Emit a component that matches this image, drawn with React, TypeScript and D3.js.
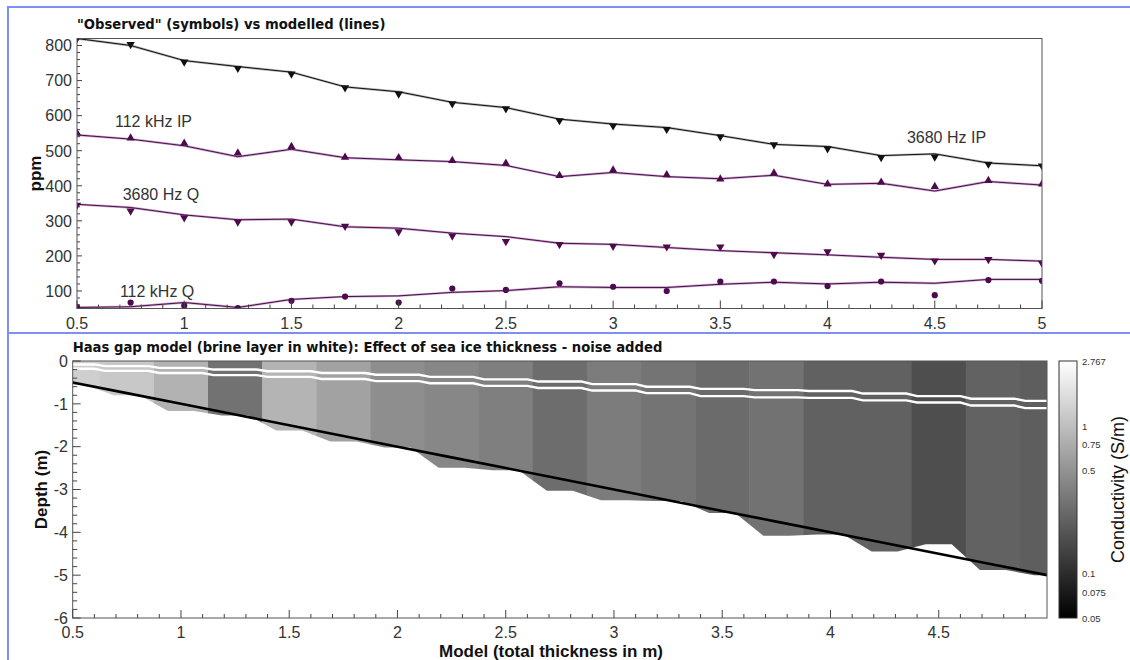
import React from "react";
import * as d3 from "d3";

// Model ice thickness (m) for each synthetic run
const thickness = [0.5, 0.75, 1, 1.25, 1.5, 1.75, 2, 2.25, 2.5, 2.75, 3, 3.25, 3.5, 3.75, 4, 4.25, 4.5, 4.75, 5];

// Response in ppm: "observed" (noisy) and modelled values
const obs3680IP = [820, 803, 753, 735, 719, 680, 662, 634, 620, 586, 571, 561, 540, 517, 506, 481, 482, 462, 457];
const mod3680IP = [820, 800, 757, 740, 724, 682, 668, 638, 623, 590, 576, 566, 543, 518, 512, 486, 491, 465, 457];
const obs112IP = [550, 536, 521, 493, 512, 481, 480, 472, 464, 429, 445, 431, 419, 436, 405, 410, 398, 415, 405];
const mod112IP = [545, 533, 514, 483, 504, 480, 474, 469, 458, 426, 438, 426, 420, 430, 404, 407, 385, 412, 402];
const obs3680Q = [345, 328, 309, 297, 297, 285, 269, 257, 241, 233, 228, 226, 226, 204, 212, 202, 186, 190, 179];
const mod3680Q = [347, 338, 317, 303, 305, 283, 279, 265, 255, 236, 233, 224, 215, 209, 203, 196, 190, 190, 185];
const obs112Q = [55, 67, 58, 51, 72, 84, 67, 107, 103, 122, 112, 100, 127, 127, 114, 127, 88, 131, 129];
const mod112Q = [53, 55, 67, 53, 76, 84, 86, 96, 101, 112, 110, 110, 119, 125, 120, 125, 122, 133, 133];

// Inverted model: conductivity of each column (S/m), brine layer depths and noisy ice base (m)
const conductivity = [1.3, 1.16, 0.82, 0.3, 0.85, 0.64, 0.47, 0.42, 0.37, 0.28, 0.35, 0.31, 0.27, 0.3, 0.23, 0.23, 0.17, 0.235, 0.22];
const brineTop = [-0.08, -0.12, -0.16, -0.2, -0.24, -0.28, -0.32, -0.37, -0.43, -0.48, -0.54, -0.6, -0.65, -0.68, -0.7, -0.76, -0.82, -0.88, -0.93];
const brineBottom = [-0.18, -0.23, -0.28, -0.33, -0.37, -0.42, -0.47, -0.52, -0.58, -0.63, -0.69, -0.75, -0.82, -0.85, -0.86, -0.92, -0.97, -1.04, -1.1];
const iceBase = [-0.56, -0.8, -1.17, -1.27, -1.62, -1.88, -2.02, -2.49, -2.55, -3.03, -3.25, -3.27, -3.55, -4.08, -4.05, -4.45, -4.28, -4.88, -5.0];

// Colour bar labels (S/m)
const colorTicks = [2.767, 1, 0.75, 0.5, 0.1, 0.075, 0.05];

const W = 1130;
const H = 660;
const BLUE = "#7d8ff2";
const PURPLE = "#4d0a4d";
const SANS = "'Liberation Sans', Arial, sans-serif";
const BOLD = "'DejaVu Sans', Verdana, sans-serif";

function steps(vals: number[], flat: number): [number, number][] {
  const pts: [number, number][] = [];
  const last = vals.length - 1;
  vals.forEach((v, i) => {
    const c = thickness[i];
    pts.push([i === 0 ? c : c - flat, v]);
    pts.push([i === last ? c : c + flat, v]);
  });
  return pts;
}

export default function App() {
  // ---------- top panel ----------
  const T = { l: 77, r: 1042, t: 38.5, b: 308.5 };
  const xT = d3.scaleLinear().domain([0.5, 5]).range([T.l, T.r]);
  const yT = d3.scaleLinear().domain([50, 820]).range([T.b, T.t]);
  const lineT = d3
    .line<number>()
    .x((_, i) => xT(thickness[i]))
    .y((v) => yT(v));

  const tri = d3.symbol().type(d3.symbolTriangle).size(30)() as string;
  const circ = d3.symbol().type(d3.symbolCircle).size(30)() as string;

  const series = [
    { obs: obs3680IP, mod: mod3680IP, color: "#111", halo: "#b4b4b4", mark: tri, rot: 180, label: "3680 Hz IP", lx: 4.37, ly: 522 },
    { obs: obs112IP, mod: mod112IP, color: PURPLE, halo: "#c9abc9", mark: tri, rot: 0, label: "112 kHz IP", lx: 0.677, ly: 569 },
    { obs: obs3680Q, mod: mod3680Q, color: PURPLE, halo: "#c9abc9", mark: tri, rot: 180, label: "3680 Hz Q", lx: 0.713, ly: 360 },
    { obs: obs112Q, mod: mod112Q, color: PURPLE, halo: "#c9abc9", mark: circ, rot: 0, label: "112 kHz Q", lx: 0.7, ly: 83 },
  ];

  const xMajorT = d3.range(0.5, 5.001, 0.5);
  const xMinorT = d3.range(0.5, 5.001, 0.1).filter((v) => Math.abs(v * 2 - Math.round(v * 2)) > 1e-6);
  const yMajorT = d3.range(100, 801, 100);
  const yMinorT = d3.range(60, 821, 20).filter((v) => v % 100 !== 0);

  // ---------- bottom panel ----------
  const B = { l: 72.7, r: 1047, t: 361, b: 618 };
  const xB = d3.scaleLinear().domain([0.5, 5]).range([B.l, B.r]);
  const yB = d3.scaleLinear().domain([-6, 0]).range([B.b, B.t]);
  const cLog = d3.scaleLog().domain([0.05, 2.767]).range([0, 1]);
  const grey = (v: number) => d3.interpolateRgb("#000", "#fff")(cLog(v));
  const cbY = d3.scaleLog().domain([0.05, 2.767]).range([B.b, B.t]);

  const stepLine = d3
    .line<[number, number]>()
    .x((p) => xB(p[0]))
    .y((p) => yB(p[1]));
  const iceArea = d3
    .area<[number, number]>()
    .x((p) => xB(p[0]))
    .y0(yB(0))
    .y1((p) => yB(p[1]));
  const nominalBase = d3
    .line<number>()
    .x((t) => xB(t))
    .y((t) => yB(-t));

  const xMajorB = d3.range(0.5, 4.501, 0.5);
  const xMinorB = d3.range(0.6, 4.951, 0.1).filter((v) => Math.abs(v * 2 - Math.round(v * 2)) > 1e-6);
  const yMajorB = d3.range(-6, 0.001, 1);
  const yMinorB = d3.range(-5.8, -0.1, 0.2).filter((v) => Math.abs(v - Math.round(v)) > 1e-6);

  return (
    <svg
      width={W}
      height={H}
      style={{ position: "absolute", left: 0, top: 0, background: "#fff" }}
    >
      <defs>
        <clipPath id="clipTop">
          <rect x={T.l} y={T.t} width={T.r - T.l} height={T.b - T.t} />
        </clipPath>
        <clipPath id="clipBot">
          <rect x={B.l} y={B.t} width={B.r - B.l} height={B.b - B.t} />
        </clipPath>
        <clipPath id="clipIce">
          <path d={iceArea(steps(iceBase, 0.06)) as string} />
        </clipPath>
        <linearGradient id="cbar" x1="0" y1="1" x2="0" y2="0">
          <stop offset="0" stopColor="#000" />
          <stop offset="1" stopColor="#fff" />
        </linearGradient>
      </defs>

      {/* window frame lines */}
      <line x1={8} x2={W} y1={7} y2={7} stroke={BLUE} strokeWidth={2} />
      <line x1={8} x2={W} y1={333} y2={333} stroke={BLUE} strokeWidth={2} />
      <line x1={8} x2={8} y1={6} y2={H} stroke={BLUE} strokeWidth={2} />

      {/* ===== top panel ===== */}
      <text x={T.l} y={29} fontFamily={BOLD} fontWeight="bold" fontSize={13.2} fill="#111">
        "Observed" (symbols) vs modelled (lines)
      </text>

      <g clipPath="url(#clipTop)">
        {series.map((s, k) => (
          <g key={k}>
            <path d={lineT(s.mod) as string} fill="none" stroke={s.halo} strokeWidth={2.4} />
            <path d={lineT(s.mod) as string} fill="none" stroke={s.color} strokeWidth={1} />
            {s.obs.map((v, i) => (
              <path
                key={i}
                d={s.mark}
                fill={s.color}
                transform={`translate(${xT(thickness[i])},${yT(v)}) rotate(${s.rot})`}
              />
            ))}
          </g>
        ))}
      </g>

      {series.map((s, k) => (
        <text key={k} x={xT(s.lx)} y={yT(s.ly)} fontFamily={SANS} fontSize={16} fill="#333">
          {s.label}
        </text>
      ))}

      <rect x={T.l} y={T.t} width={T.r - T.l} height={T.b - T.t} fill="none" stroke="#555" strokeWidth={1} />

      {xMajorT.map((v) => (
        <g key={`xt${v}`}>
          <line x1={xT(v)} x2={xT(v)} y1={T.b} y2={T.b - 8} stroke="#444" />
          <text x={xT(v)} y={329} textAnchor="middle" fontFamily={SANS} fontSize={16} fill="#333">
            {d3.format("~g")(v)}
          </text>
        </g>
      ))}
      {xMinorT.map((v) => (
        <line key={`xm${v}`} x1={xT(v)} x2={xT(v)} y1={T.b} y2={T.b - 4} stroke="#444" />
      ))}
      {yMajorT.map((v) => (
        <g key={`yt${v}`}>
          <line x1={T.l} x2={T.l + 5} y1={yT(v)} y2={yT(v)} stroke="#444" />
          <text x={72} y={yT(v) + 5.8} textAnchor="end" fontFamily={SANS} fontSize={16} fill="#333">
            {v}
          </text>
        </g>
      ))}
      {yMinorT.map((v) => (
        <line key={`ym${v}`} x1={T.l} x2={T.l + 3} y1={yT(v)} y2={yT(v)} stroke="#444" />
      ))}
      <text
        transform={`translate(${41},${(T.t + T.b) / 2}) rotate(-90)`}
        textAnchor="middle"
        fontFamily={SANS}
        fontWeight="bold"
        fontSize={17}
        fill="#111"
      >
        ppm
      </text>

      {/* ===== bottom panel ===== */}
      <text x={B.l} y={352} fontFamily={BOLD} fontWeight="bold" fontSize={13.2} fill="#111">
        Haas gap model (brine layer in white): Effect of sea ice thickness - noise added
      </text>

      <g clipPath="url(#clipBot)">
        <g clipPath="url(#clipIce)">
          {thickness.map((t, i) => {
            const x0 = xB(Math.max(0.5, t - 0.125));
            const x1 = xB(Math.min(5, t + 0.125));
            return (
              <rect
                key={i}
                x={x0}
                y={yB(0)}
                width={x1 - x0 + 0.5}
                height={yB(-6) - yB(0)}
                fill={grey(conductivity[i])}
              />
            );
          })}
        </g>
        <path d={stepLine(steps(brineTop, 0.1)) as string} fill="none" stroke="#fff" strokeWidth={2.4} />
        <path d={stepLine(steps(brineBottom, 0.1)) as string} fill="none" stroke="#fff" strokeWidth={2.4} />
        <path d={nominalBase(thickness) as string} fill="none" stroke="#000" strokeWidth={2.6} />
      </g>

      <rect x={B.l} y={B.t} width={B.r - B.l} height={B.b - B.t} fill="none" stroke="#555" strokeWidth={1} />

      {xMajorB.map((v) => (
        <g key={`bx${v}`}>
          <line x1={xB(v)} x2={xB(v)} y1={B.b} y2={B.b - 8} stroke="#444" />
          <text x={xB(v)} y={638} textAnchor="middle" fontFamily={SANS} fontSize={16} fill="#333">
            {d3.format("~g")(v)}
          </text>
        </g>
      ))}
      {xMinorB.map((v) => (
        <line key={`bxm${v}`} x1={xB(v)} x2={xB(v)} y1={B.b} y2={B.b - 4} stroke="#444" />
      ))}
      {yMajorB.map((v) => (
        <g key={`by${v}`}>
          <line x1={B.l} x2={B.l + 8} y1={yB(v)} y2={yB(v)} stroke="#444" />
          <text x={68} y={yB(v) + 5.8} textAnchor="end" fontFamily={SANS} fontSize={16} fill="#333">
            {v}
          </text>
        </g>
      ))}
      {yMinorB.map((v) => (
        <line key={`bym${v}`} x1={B.l} x2={B.l + 4.5} y1={yB(v)} y2={yB(v)} stroke="#444" />
      ))}
      <text
        transform={`translate(${47},${(B.t + B.b) / 2}) rotate(-90)`}
        textAnchor="middle"
        fontFamily={SANS}
        fontWeight="bold"
        fontSize={17}
        fill="#111"
      >
        Depth (m)
      </text>
      <text x={551} y={657} textAnchor="middle" fontFamily={SANS} fontWeight="bold" fontSize={17} fill="#111">
        Model (total thickness in m)
      </text>

      {/* colour bar */}
      <rect x={1059} y={B.t} width={18} height={B.b - B.t} fill="url(#cbar)" stroke="#333" strokeWidth={1} />
      {colorTicks.map((v) => (
        <text key={`cb${v}`} x={1082} y={cbY(v) + 3.5} fontFamily={SANS} fontSize={9.5} fill="#333">
          {v}
        </text>
      ))}
      <text
        transform={`translate(${1124},${(B.t + B.b) / 2}) rotate(-90)`}
        textAnchor="middle"
        fontFamily={SANS}
        fontSize={18}
        fill="#111"
      >
        Conductivity (S/m)
      </text>
    </svg>
  );
}
